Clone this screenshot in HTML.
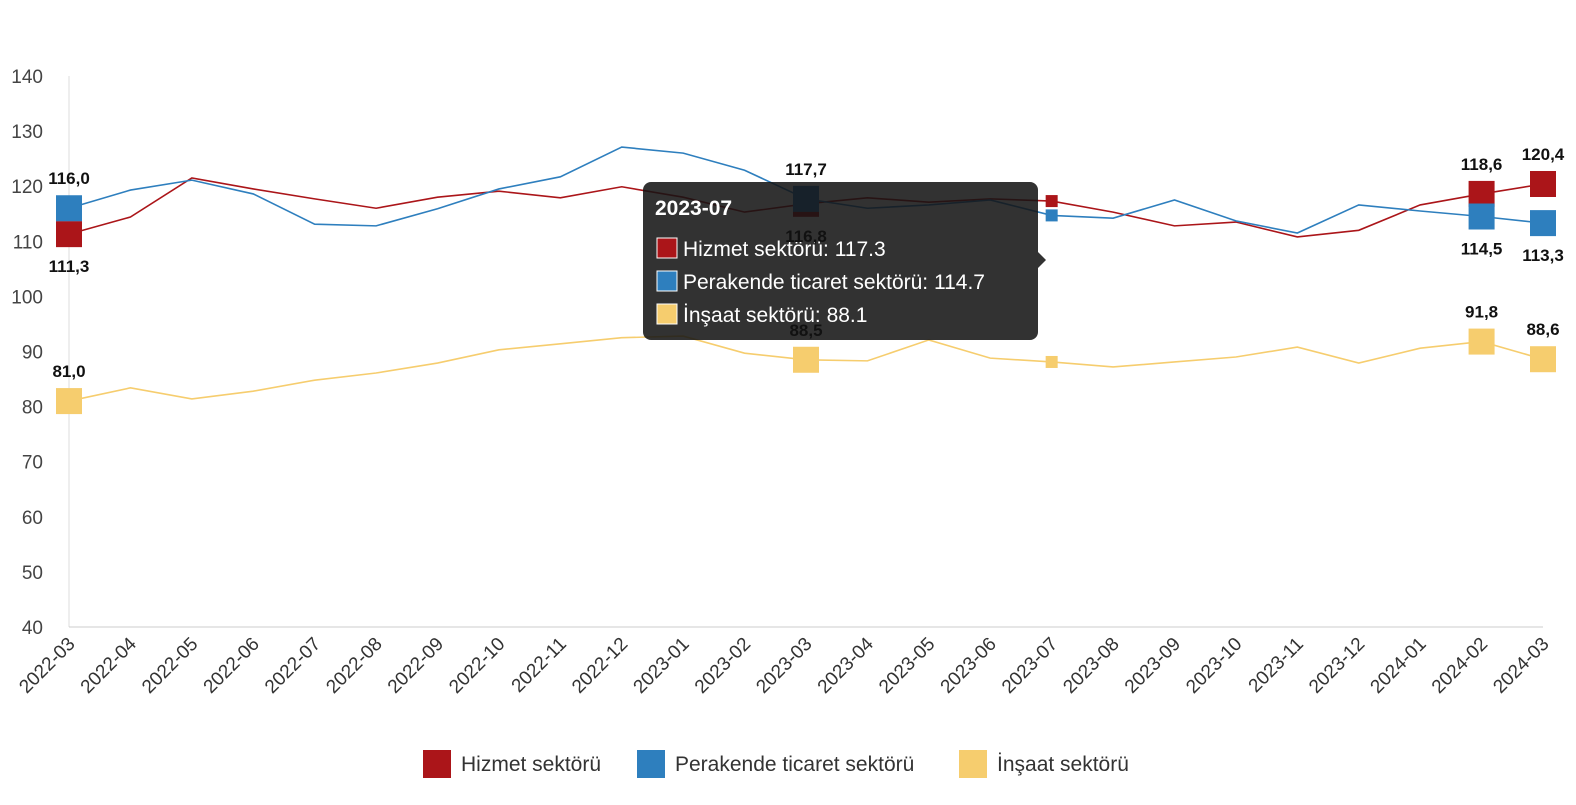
<!DOCTYPE html>
<html><head><meta charset="utf-8"><style>
body{margin:0;background:#fff;font-family:"Liberation Sans",sans-serif}
svg text{font-family:"Liberation Sans","DejaVu Sans",sans-serif}
</style></head><body>
<svg id="c" width="1576" height="800"></svg>
<script>
const categories=["2022-03","2022-04","2022-05","2022-06","2022-07","2022-08","2022-09","2022-10","2022-11","2022-12","2023-01","2023-02","2023-03","2023-04","2023-05","2023-06","2023-07","2023-08","2023-09","2023-10","2023-11","2023-12","2024-01","2024-02","2024-03"];
const hizmet=[111.3,114.4,121.5,119.5,117.7,116.0,118.0,119.1,117.9,119.9,118.0,115.3,116.8,117.9,117.1,117.7,117.3,115.3,112.8,113.5,110.8,112.0,116.6,118.6,120.4];
const perakende=[116.0,119.3,121.1,118.6,113.1,112.8,115.9,119.5,121.7,127.1,126.0,122.9,117.7,116.0,116.6,117.5,114.7,114.2,117.5,113.7,111.5,116.6,115.5,114.5,113.3];
const insaat=[81.0,83.4,81.4,82.8,84.8,86.1,87.9,90.3,91.4,92.5,92.8,89.7,88.5,88.3,92.1,88.8,88.1,87.2,88.1,89.0,90.8,87.9,90.6,91.8,88.6];
const yTicks=[40,50,60,70,80,90,100,110,120,130,140];
const labelIdx=[0,12,23,24];
const NS="http://www.w3.org/2000/svg",svg=document.getElementById('c');
const X0=69,X1=1543,Y0=627,Y1=76;
const x=i=>X0+(X1-X0)*i/(categories.length-1);
const y=v=>Y0-(v-40)/100*(Y0-Y1);
function el(t,a,p){const e=document.createElementNS(NS,t);for(const k in a)e.setAttribute(k,a[k]);(p||svg).appendChild(e);return e;}
yTicks.forEach(t=>{const e=el('text',{x:43,y:y(t)+7,'text-anchor':'end','font-size':19,fill:'#444'});e.textContent=t;

});
const ax=el('line',{x1:X0,x2:X0,y1:Y1,y2:Y0,stroke:'#ddd'});

const xa=el('line',{x1:X0,x2:X1,y1:Y0,y2:Y0,stroke:'#ccc'});

categories.forEach((c,i)=>{const e=el('text',{x:x(i)+7,y:Y0+18,'text-anchor':'end','font-size':19,fill:'#333',transform:`rotate(-45 ${x(i)+7} ${Y0+18})`});e.textContent=c;

});
const series=[[hizmet,'#ab1519','hizmet'],[perakende,'#2e7fbe','perakende'],[insaat,'#f6cd6e','insaat']];
series.forEach(([d,col,n])=>{const p=el('polyline',{points:d.map((v,i)=>x(i)+','+y(v)).join(' '),fill:'none',stroke:col,'stroke-width':1.6});


labelIdx.forEach(i=>{const r=el('rect',{x:x(i)-13,y:y(d[i])-13,width:26,height:26,fill:col});

});
const s=el('rect',{x:x(16)-6,y:y(d[16])-6,width:12,height:12,fill:col});

});
// tooltip
const g=el('g',{});


el('rect',{x:643,y:182,width:395,height:158,rx:8,fill:'rgba(20,20,20,0.87)'},g);
el('path',{d:'M1038,252 L1046,260 L1038,268 Z',fill:'rgba(20,20,20,0.87)'},g);
let t=el('text',{x:655,y:215,'font-size':21,'font-weight':'bold',fill:'#fff'},g);t.textContent=categories[16];
[['Hizmet sektörü',hizmet[16],'#ab1519'],['Perakende ticaret sektörü',perakende[16],'#2e7fbe'],['İnşaat sektörü',insaat[16],'#f6cd6e']].forEach((r,k)=>{
const yy=248+k*33;el('rect',{x:657,y:yy-10,width:20,height:20,fill:r[2],stroke:'#fff','stroke-width':1},g);
const tt=el('text',{x:683,y:yy+8,'font-size':21,fill:'#fff'},g);tt.textContent=r[0]+': '+r[1].toFixed(1);});
// data labels
const fmt=v=>v.toFixed(1).replace('.',',');
function lab(i,v,above){const e=el('text',{x:x(i),y:above?y(v)-24:y(v)+38,'text-anchor':'middle','font-size':17,'font-weight':'bold',fill:'#111'});e.textContent=fmt(v);

}
labelIdx.forEach(i=>{const hAbove=hizmet[i]>perakende[i];lab(i,hizmet[i],hAbove);lab(i,perakende[i],!hAbove);lab(i,insaat[i],true);});
// legend
const lg=[['Hizmet sektörü','#ab1519',423],['Perakende ticaret sektörü','#2e7fbe',637],['İnşaat sektörü','#f6cd6e',959]];
lg.forEach(([n,c,lx])=>{const gg=el('g',{});


el('rect',{x:lx,y:750,width:28,height:28,fill:c},gg);
const e=el('text',{x:lx+38,y:771,'font-size':21,fill:'#333'},gg);e.textContent=n;});
</script></body></html>
